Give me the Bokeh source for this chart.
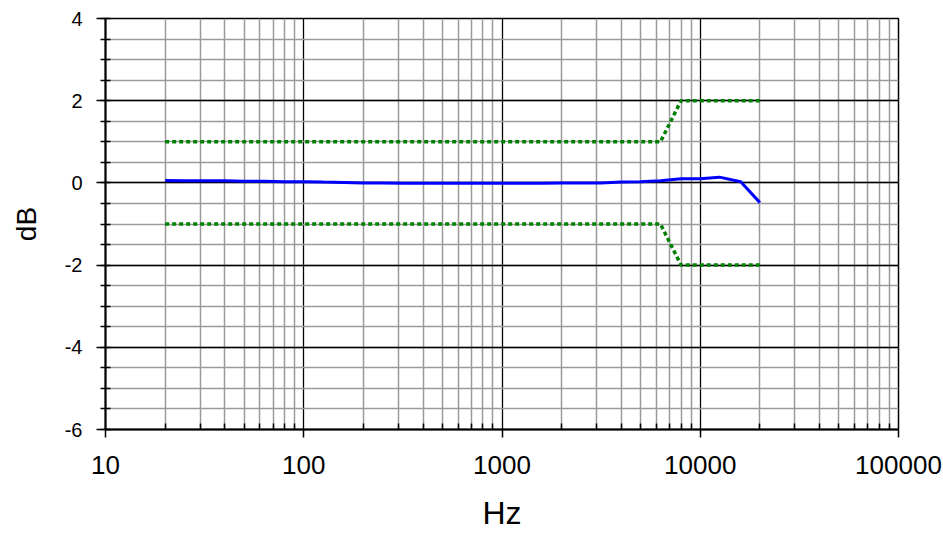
from bokeh.plotting import figure
from bokeh.models import FixedTicker, SingleIntervalTicker, CustomJSTickFormatter, Range1d
from bokeh.embed import file_html
from bokeh.resources import INLINE

# Data
freq = [20, 25, 31.5, 40, 50, 63, 80, 100, 125, 160, 200, 250, 315, 400, 500, 630, 800,
        1000, 1250, 1600, 2000, 2500, 3150, 4000, 5000, 6300, 8000, 10000, 12500, 16000, 20000]
gain = [0.06, 0.05, 0.05, 0.05, 0.04, 0.04, 0.03, 0.03, 0.02, 0.01, 0.0, 0.0, -0.01, -0.01, -0.01,
        -0.01, -0.01, -0.01, -0.01, -0.01, 0.0, 0.0, 0.0, 0.02, 0.03, 0.05, 0.1, 0.1, 0.14, 0.03, -0.48]
lim_freq = [20, 6300, 8000, 20000]
lim_upper = [1, 1, 2, 2]
lim_lower = [-1, -1, -2, -2]
x_ticks = [10, 100, 1000, 10000, 100000]
x_minor = [m * d for d in [10, 100, 1000, 10000] for m in range(2, 10)]
y_min, y_max = -6, 4

FONT = "Liberation Sans"

p = figure(width=943, height=533, x_axis_type="log",
           x_range=Range1d(10, 100000), y_range=Range1d(y_min, y_max),
           output_backend="svg", toolbar_location=None,
           min_border_left=105, min_border_right=45, min_border_top=18, min_border_bottom=104)

p.background_fill_color = "white"
p.border_fill_color = "white"
p.outline_line_color = "black"
p.outline_line_width = 1.5

# x axis
p.xaxis.ticker = FixedTicker(ticks=x_ticks, minor_ticks=x_minor)
p.xaxis.formatter = CustomJSTickFormatter(code="return String(Math.round(tick));")
p.xaxis.axis_label = "Hz"
p.xaxis.axis_label_text_font = FONT
p.xaxis.axis_label_text_font_size = "32px"
p.xaxis.axis_label_text_font_style = "normal"
p.xaxis.axis_label_text_line_height = 1.0
p.xaxis.axis_label_standoff = 18
p.xaxis.major_label_text_font = FONT
p.xaxis.major_label_text_font_size = "26px"
p.xaxis.major_label_text_line_height = 1.0
p.xaxis.major_label_standoff = 18
p.xaxis.major_tick_out = 8
p.xaxis.major_tick_in = 0
p.xaxis.minor_tick_in = 6
p.xaxis.minor_tick_out = 0

# y axis
p.yaxis.ticker = SingleIntervalTicker(interval=2, num_minor_ticks=4)
p.yaxis.formatter = CustomJSTickFormatter(code="return String(Math.round(tick));")
p.yaxis.axis_label = "dB"
p.yaxis.axis_label_text_font = FONT
p.yaxis.axis_label_text_font_size = "28px"
p.yaxis.axis_label_text_font_style = "normal"
p.yaxis.axis_label_standoff = 20
p.yaxis.major_label_text_font = FONT
p.yaxis.major_label_text_font_size = "20px"
p.yaxis.major_label_standoff = 14
p.yaxis.major_tick_out = 9
p.yaxis.major_tick_in = 0
p.yaxis.minor_tick_in = 5
p.yaxis.minor_tick_out = 5

for ax in [p.xaxis, p.yaxis]:
    ax.axis_line_color = "black"
    ax.axis_line_width = 2
    ax.major_tick_line_color = "black"
    ax.major_tick_line_width = 1.5
    ax.minor_tick_line_color = "black"
    ax.minor_tick_line_width = 1.5
    ax.major_label_text_color = "black"
    ax.axis_label_text_color = "black"

# grids
for g in [p.xgrid, p.ygrid]:
    g.grid_line_color = "black"
    g.grid_line_width = 1.3
    g.minor_grid_line_color = "#9a9a9a"
    g.minor_grid_line_width = 1.5
p.xgrid.ticker = p.xaxis.ticker
p.ygrid.ticker = p.yaxis.ticker

# limit lines
p.line(lim_freq, lim_upper, line_color="#008000", line_width=3.5, line_dash="4 3")
p.line(lim_freq, lim_lower, line_color="#008000", line_width=3.5, line_dash="4 3")
# response
p.line(freq, gain, line_color="#0000ff", line_width=3)

open("out.html", "w").write(file_html(p, INLINE))
